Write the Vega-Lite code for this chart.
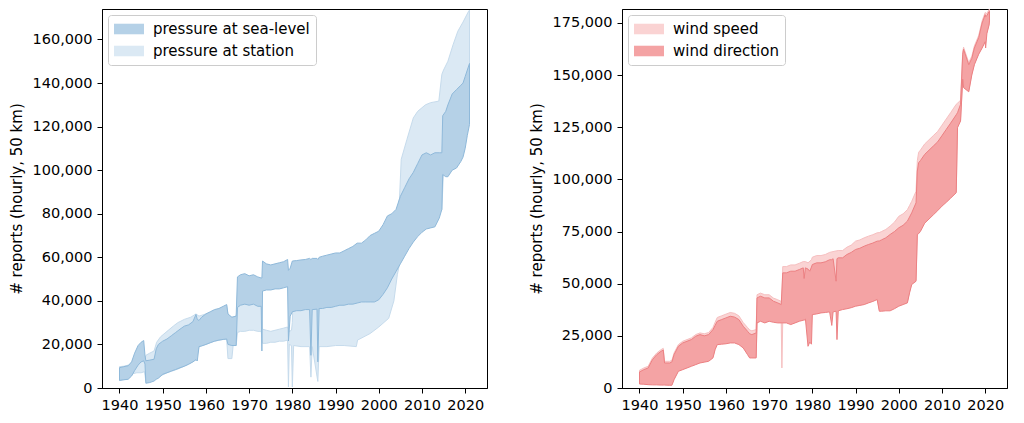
{
  "$schema": "https://vega.github.io/schema/vega-lite/v6.json",
  "padding": {"left": 8, "top": 8, "right": 5, "bottom": 5},
  "background": "white",
  "config": {
    "view": {"stroke": "black", "strokeWidth": 1},
    "axis": {"labelFont": "DejaVu Sans", "labelFontSize": 14.5, "labelColor": "black", "tickColor": "black", "domainColor": "black", "tickSize": 5, "labelPadding": 5, "grid": false, "titleFont": "DejaVu Sans", "titleFontSize": 15, "titleFontWeight": "normal", "titleColor": "black", "labelFlush": false, "labelOverlap": false, "titlePadding": 8},
    "legend": {"title": null, "orient": "top-left", "offset": 6, "padding": 6, "fillColor": "rgba(255,255,255,0.8)", "strokeColor": "#cccccc", "cornerRadius": 3, "symbolType": "M-1.875,-0.66H1.875V0.66H-1.875Z", "symbolSize": 256, "symbolOffset": 7, "symbolStrokeWidth": 0, "symbolOpacity": 1, "labelFontSize": 15, "labelFont": "DejaVu Sans", "labelColor": "black", "labelOffset": 16, "rowPadding": 6}
  },
  "datasets": {
    "pressure": [
      {"series":"pressure at sea-level","year":1940.0,"lo":3500,"hi":9300},
      {"series":"pressure at sea-level","year":1941.0,"lo":3800,"hi":9800},
      {"series":"pressure at sea-level","year":1942.0,"lo":4000,"hi":10200},
      {"series":"pressure at sea-level","year":1942.8,"lo":5500,"hi":12000},
      {"series":"pressure at sea-level","year":1943.5,"lo":8000,"hi":16000},
      {"series":"pressure at sea-level","year":1944.3,"lo":10500,"hi":19500},
      {"series":"pressure at sea-level","year":1945.0,"lo":12000,"hi":21000},
      {"series":"pressure at sea-level","year":1945.6,"lo":12500,"hi":21800},
      {"series":"pressure at sea-level","year":1945.9,"lo":11000,"hi":15000},
      {"series":"pressure at sea-level","year":1946.1,"lo":2200,"hi":12500},
      {"series":"pressure at sea-level","year":1947.0,"lo":2500,"hi":12800},
      {"series":"pressure at sea-level","year":1948.0,"lo":3200,"hi":13200},
      {"series":"pressure at sea-level","year":1948.5,"lo":4000,"hi":18000},
      {"series":"pressure at sea-level","year":1949.0,"lo":4500,"hi":20000},
      {"series":"pressure at sea-level","year":1950.0,"lo":6300,"hi":21500},
      {"series":"pressure at sea-level","year":1951.0,"lo":7000,"hi":22500},
      {"series":"pressure at sea-level","year":1952.0,"lo":7800,"hi":24000},
      {"series":"pressure at sea-level","year":1953.0,"lo":8500,"hi":25500},
      {"series":"pressure at sea-level","year":1954.0,"lo":9300,"hi":27000},
      {"series":"pressure at sea-level","year":1955.0,"lo":10000,"hi":28400},
      {"series":"pressure at sea-level","year":1956.0,"lo":10900,"hi":29000},
      {"series":"pressure at sea-level","year":1957.0,"lo":12000,"hi":30500},
      {"series":"pressure at sea-level","year":1957.7,"lo":13000,"hi":33800},
      {"series":"pressure at sea-level","year":1958.0,"lo":12400,"hi":31500},
      {"series":"pressure at sea-level","year":1958.4,"lo":19000,"hi":31000},
      {"series":"pressure at sea-level","year":1959.0,"lo":19300,"hi":32500},
      {"series":"pressure at sea-level","year":1960.0,"lo":20000,"hi":34000},
      {"series":"pressure at sea-level","year":1961.0,"lo":20800,"hi":35000},
      {"series":"pressure at sea-level","year":1962.0,"lo":21500,"hi":36000},
      {"series":"pressure at sea-level","year":1963.0,"lo":22000,"hi":36500},
      {"series":"pressure at sea-level","year":1964.0,"lo":22300,"hi":37500},
      {"series":"pressure at sea-level","year":1964.8,"lo":22500,"hi":38300},
      {"series":"pressure at sea-level","year":1965.1,"lo":20000,"hi":34000},
      {"series":"pressure at sea-level","year":1966.0,"lo":19500,"hi":32500},
      {"series":"pressure at sea-level","year":1967.0,"lo":19500,"hi":33000},
      {"series":"pressure at sea-level","year":1967.3,"lo":37000,"hi":51000},
      {"series":"pressure at sea-level","year":1968.0,"lo":38000,"hi":52000},
      {"series":"pressure at sea-level","year":1969.0,"lo":38500,"hi":52500},
      {"series":"pressure at sea-level","year":1970.0,"lo":38000,"hi":51500},
      {"series":"pressure at sea-level","year":1971.0,"lo":38500,"hi":52000},
      {"series":"pressure at sea-level","year":1972.0,"lo":37500,"hi":51000},
      {"series":"pressure at sea-level","year":1972.8,"lo":37500,"hi":50500},
      {"series":"pressure at sea-level","year":1972.95,"lo":17000,"hi":50500},
      {"series":"pressure at sea-level","year":1973.1,"lo":44500,"hi":58300},
      {"series":"pressure at sea-level","year":1974.0,"lo":45000,"hi":57000},
      {"series":"pressure at sea-level","year":1975.0,"lo":45000,"hi":56500},
      {"series":"pressure at sea-level","year":1976.0,"lo":45500,"hi":57000},
      {"series":"pressure at sea-level","year":1977.0,"lo":45500,"hi":57500},
      {"series":"pressure at sea-level","year":1978.0,"lo":46000,"hi":58000},
      {"series":"pressure at sea-level","year":1978.9,"lo":46500,"hi":59000},
      {"series":"pressure at sea-level","year":1979.1,"lo":21600,"hi":54000},
      {"series":"pressure at sea-level","year":1979.5,"lo":33000,"hi":55000},
      {"series":"pressure at sea-level","year":1980.0,"lo":35000,"hi":58300},
      {"series":"pressure at sea-level","year":1981.0,"lo":35500,"hi":58500},
      {"series":"pressure at sea-level","year":1982.0,"lo":35500,"hi":58800},
      {"series":"pressure at sea-level","year":1983.0,"lo":36000,"hi":59000},
      {"series":"pressure at sea-level","year":1984.0,"lo":36000,"hi":59500},
      {"series":"pressure at sea-level","year":1984.3,"lo":15000,"hi":59000},
      {"series":"pressure at sea-level","year":1984.6,"lo":36000,"hi":59500},
      {"series":"pressure at sea-level","year":1985.7,"lo":36200,"hi":59500},
      {"series":"pressure at sea-level","year":1985.9,"lo":12000,"hi":59000},
      {"series":"pressure at sea-level","year":1986.2,"lo":36500,"hi":60000},
      {"series":"pressure at sea-level","year":1987.0,"lo":36500,"hi":60500},
      {"series":"pressure at sea-level","year":1988.0,"lo":37000,"hi":61000},
      {"series":"pressure at sea-level","year":1989.0,"lo":37000,"hi":61500},
      {"series":"pressure at sea-level","year":1990.0,"lo":37500,"hi":62000},
      {"series":"pressure at sea-level","year":1991.0,"lo":38000,"hi":62000},
      {"series":"pressure at sea-level","year":1992.0,"lo":38000,"hi":63000},
      {"series":"pressure at sea-level","year":1993.0,"lo":38500,"hi":64000},
      {"series":"pressure at sea-level","year":1994.0,"lo":38500,"hi":65000},
      {"series":"pressure at sea-level","year":1995.0,"lo":39000,"hi":66500},
      {"series":"pressure at sea-level","year":1996.0,"lo":39500,"hi":66500},
      {"series":"pressure at sea-level","year":1997.0,"lo":39500,"hi":68000},
      {"series":"pressure at sea-level","year":1998.0,"lo":39500,"hi":70000},
      {"series":"pressure at sea-level","year":1999.0,"lo":39500,"hi":71000},
      {"series":"pressure at sea-level","year":2000.0,"lo":40500,"hi":72000},
      {"series":"pressure at sea-level","year":2001.0,"lo":43000,"hi":75000},
      {"series":"pressure at sea-level","year":2002.0,"lo":46000,"hi":79000},
      {"series":"pressure at sea-level","year":2003.0,"lo":50000,"hi":80000},
      {"series":"pressure at sea-level","year":2004.0,"lo":53500,"hi":82000},
      {"series":"pressure at sea-level","year":2005.0,"lo":57000,"hi":88000},
      {"series":"pressure at sea-level","year":2006.0,"lo":60500,"hi":92000},
      {"series":"pressure at sea-level","year":2007.0,"lo":64000,"hi":96000},
      {"series":"pressure at sea-level","year":2008.0,"lo":67000,"hi":99000},
      {"series":"pressure at sea-level","year":2009.0,"lo":69500,"hi":103000},
      {"series":"pressure at sea-level","year":2010.0,"lo":71500,"hi":107000},
      {"series":"pressure at sea-level","year":2011.0,"lo":73000,"hi":108000},
      {"series":"pressure at sea-level","year":2012.0,"lo":73500,"hi":107000},
      {"series":"pressure at sea-level","year":2013.0,"lo":74000,"hi":108000},
      {"series":"pressure at sea-level","year":2014.0,"lo":78000,"hi":108000},
      {"series":"pressure at sea-level","year":2014.6,"lo":82000,"hi":108000},
      {"series":"pressure at sea-level","year":2014.8,"lo":98000,"hi":125000},
      {"series":"pressure at sea-level","year":2015.5,"lo":97000,"hi":127000},
      {"series":"pressure at sea-level","year":2016.0,"lo":97000,"hi":130000},
      {"series":"pressure at sea-level","year":2017.0,"lo":100000,"hi":135000},
      {"series":"pressure at sea-level","year":2018.0,"lo":101000,"hi":137000},
      {"series":"pressure at sea-level","year":2019.0,"lo":104000,"hi":139000},
      {"series":"pressure at sea-level","year":2019.5,"lo":106000,"hi":140000},
      {"series":"pressure at sea-level","year":2020.0,"lo":110000,"hi":143000},
      {"series":"pressure at sea-level","year":2020.5,"lo":116000,"hi":146000},
      {"series":"pressure at sea-level","year":2021.0,"lo":121000,"hi":149000},
      {"series":"pressure at station","year":1940.0,"lo":3500,"hi":9800},
      {"series":"pressure at station","year":1941.0,"lo":3800,"hi":10000},
      {"series":"pressure at station","year":1942.0,"lo":4200,"hi":10500},
      {"series":"pressure at station","year":1943.0,"lo":6500,"hi":11000},
      {"series":"pressure at station","year":1944.0,"lo":7000,"hi":11500},
      {"series":"pressure at station","year":1945.0,"lo":7000,"hi":12000},
      {"series":"pressure at station","year":1945.8,"lo":7500,"hi":12500},
      {"series":"pressure at station","year":1946.1,"lo":3000,"hi":15000},
      {"series":"pressure at station","year":1947.0,"lo":3200,"hi":16000},
      {"series":"pressure at station","year":1948.0,"lo":3800,"hi":17000},
      {"series":"pressure at station","year":1948.6,"lo":4500,"hi":21000},
      {"series":"pressure at station","year":1949.5,"lo":5500,"hi":23500},
      {"series":"pressure at station","year":1951.0,"lo":7000,"hi":26000},
      {"series":"pressure at station","year":1952.5,"lo":8000,"hi":28500},
      {"series":"pressure at station","year":1953.5,"lo":8700,"hi":30000},
      {"series":"pressure at station","year":1955.0,"lo":10000,"hi":31500},
      {"series":"pressure at station","year":1956.5,"lo":11500,"hi":32500},
      {"series":"pressure at station","year":1957.7,"lo":13000,"hi":34000},
      {"series":"pressure at station","year":1958.4,"lo":19000,"hi":33000},
      {"series":"pressure at station","year":1960.0,"lo":20000,"hi":34000},
      {"series":"pressure at station","year":1962.0,"lo":21500,"hi":35500},
      {"series":"pressure at station","year":1964.0,"lo":22300,"hi":37000},
      {"series":"pressure at station","year":1964.8,"lo":22500,"hi":38000},
      {"series":"pressure at station","year":1965.1,"lo":13500,"hi":33500},
      {"series":"pressure at station","year":1966.0,"lo":13500,"hi":32500},
      {"series":"pressure at station","year":1966.3,"lo":19500,"hi":32500},
      {"series":"pressure at station","year":1967.0,"lo":19500,"hi":33000},
      {"series":"pressure at station","year":1967.3,"lo":25500,"hi":38000},
      {"series":"pressure at station","year":1968.0,"lo":26000,"hi":39000},
      {"series":"pressure at station","year":1969.0,"lo":26000,"hi":40000},
      {"series":"pressure at station","year":1970.0,"lo":26500,"hi":39500},
      {"series":"pressure at station","year":1971.0,"lo":26500,"hi":39000},
      {"series":"pressure at station","year":1972.0,"lo":26000,"hi":38500},
      {"series":"pressure at station","year":1972.8,"lo":26000,"hi":38000},
      {"series":"pressure at station","year":1973.1,"lo":20500,"hi":27000},
      {"series":"pressure at station","year":1974.0,"lo":20500,"hi":26500},
      {"series":"pressure at station","year":1975.0,"lo":21000,"hi":26000},
      {"series":"pressure at station","year":1976.0,"lo":21000,"hi":26500},
      {"series":"pressure at station","year":1977.0,"lo":21500,"hi":27000},
      {"series":"pressure at station","year":1978.0,"lo":21500,"hi":27500},
      {"series":"pressure at station","year":1978.9,"lo":22000,"hi":28000},
      {"series":"pressure at station","year":1979.1,"lo":500,"hi":27000},
      {"series":"pressure at station","year":1979.3,"lo":20000,"hi":26000},
      {"series":"pressure at station","year":1979.8,"lo":19500,"hi":26500},
      {"series":"pressure at station","year":1980.0,"lo":500,"hi":30000},
      {"series":"pressure at station","year":1980.3,"lo":19500,"hi":55000},
      {"series":"pressure at station","year":1982.0,"lo":19000,"hi":56000},
      {"series":"pressure at station","year":1984.0,"lo":19000,"hi":57000},
      {"series":"pressure at station","year":1984.3,"lo":5000,"hi":56500},
      {"series":"pressure at station","year":1984.6,"lo":19000,"hi":57000},
      {"series":"pressure at station","year":1985.9,"lo":3000,"hi":57000},
      {"series":"pressure at station","year":1986.2,"lo":19000,"hi":57500},
      {"series":"pressure at station","year":1988.0,"lo":19000,"hi":58000},
      {"series":"pressure at station","year":1990.0,"lo":19500,"hi":59000},
      {"series":"pressure at station","year":1992.0,"lo":19500,"hi":60000},
      {"series":"pressure at station","year":1994.8,"lo":19000,"hi":62000},
      {"series":"pressure at station","year":1995.1,"lo":22000,"hi":63000},
      {"series":"pressure at station","year":1998.0,"lo":25000,"hi":67000},
      {"series":"pressure at station","year":2000.0,"lo":28000,"hi":69000},
      {"series":"pressure at station","year":2002.3,"lo":32000,"hi":75000},
      {"series":"pressure at station","year":2003.5,"lo":40000,"hi":78000},
      {"series":"pressure at station","year":2004.3,"lo":52000,"hi":82000},
      {"series":"pressure at station","year":2004.8,"lo":57000,"hi":87000},
      {"series":"pressure at station","year":2005.2,"lo":60000,"hi":105000},
      {"series":"pressure at station","year":2006.5,"lo":64000,"hi":114000},
      {"series":"pressure at station","year":2008.0,"lo":69000,"hi":124000},
      {"series":"pressure at station","year":2009.0,"lo":71000,"hi":127000},
      {"series":"pressure at station","year":2010.8,"lo":75000,"hi":130000},
      {"series":"pressure at station","year":2012.0,"lo":78000,"hi":131000},
      {"series":"pressure at station","year":2013.9,"lo":80000,"hi":131700},
      {"series":"pressure at station","year":2014.6,"lo":82000,"hi":144000},
      {"series":"pressure at station","year":2015.0,"lo":100000,"hi":146000},
      {"series":"pressure at station","year":2016.0,"lo":102000,"hi":150000},
      {"series":"pressure at station","year":2017.2,"lo":105000,"hi":157600},
      {"series":"pressure at station","year":2018.3,"lo":108000,"hi":163800},
      {"series":"pressure at station","year":2019.5,"lo":112000,"hi":168000},
      {"series":"pressure at station","year":2020.8,"lo":125000,"hi":173000},
      {"series":"pressure at station","year":2021.0,"lo":127000,"hi":173500}
    ],
    "wind": [
      {"series":"wind direction","year":1940.0,"lo":1900,"hi":7700},
      {"series":"wind direction","year":1941.0,"lo":1800,"hi":8800},
      {"series":"wind direction","year":1942.0,"lo":1600,"hi":9600},
      {"series":"wind direction","year":1943.0,"lo":1500,"hi":13600},
      {"series":"wind direction","year":1944.0,"lo":1500,"hi":16000},
      {"series":"wind direction","year":1945.0,"lo":1400,"hi":17600},
      {"series":"wind direction","year":1945.5,"lo":1400,"hi":18200},
      {"series":"wind direction","year":1945.8,"lo":1400,"hi":12000},
      {"series":"wind direction","year":1947.0,"lo":1300,"hi":12000},
      {"series":"wind direction","year":1947.5,"lo":1300,"hi":12500},
      {"series":"wind direction","year":1948.0,"lo":4000,"hi":16000},
      {"series":"wind direction","year":1949.0,"lo":8000,"hi":20000},
      {"series":"wind direction","year":1950.0,"lo":8800,"hi":21600},
      {"series":"wind direction","year":1951.0,"lo":9600,"hi":22400},
      {"series":"wind direction","year":1952.0,"lo":10400,"hi":23200},
      {"series":"wind direction","year":1953.0,"lo":11200,"hi":24800},
      {"series":"wind direction","year":1954.0,"lo":12000,"hi":25600},
      {"series":"wind direction","year":1955.0,"lo":12400,"hi":25000},
      {"series":"wind direction","year":1956.0,"lo":12800,"hi":25600},
      {"series":"wind direction","year":1957.0,"lo":14400,"hi":28000},
      {"series":"wind direction","year":1957.5,"lo":18400,"hi":30000},
      {"series":"wind direction","year":1958.0,"lo":20800,"hi":32000},
      {"series":"wind direction","year":1959.0,"lo":21000,"hi":32800},
      {"series":"wind direction","year":1960.0,"lo":21200,"hi":33600},
      {"series":"wind direction","year":1961.0,"lo":21600,"hi":34400},
      {"series":"wind direction","year":1962.0,"lo":21600,"hi":34000},
      {"series":"wind direction","year":1963.0,"lo":20800,"hi":32800},
      {"series":"wind direction","year":1964.0,"lo":19200,"hi":29600},
      {"series":"wind direction","year":1965.0,"lo":16000,"hi":27200},
      {"series":"wind direction","year":1965.5,"lo":14400,"hi":26000},
      {"series":"wind direction","year":1966.0,"lo":14400,"hi":25600},
      {"series":"wind direction","year":1967.0,"lo":14400,"hi":26400},
      {"series":"wind direction","year":1967.2,"lo":31200,"hi":43200},
      {"series":"wind direction","year":1968.0,"lo":32000,"hi":44000},
      {"series":"wind direction","year":1969.0,"lo":31200,"hi":43200},
      {"series":"wind direction","year":1970.0,"lo":32000,"hi":43200},
      {"series":"wind direction","year":1971.0,"lo":31500,"hi":41600},
      {"series":"wind direction","year":1972.0,"lo":31200,"hi":40800},
      {"series":"wind direction","year":1972.8,"lo":31200,"hi":40000},
      {"series":"wind direction","year":1973.15,"lo":31200,"hi":55200},
      {"series":"wind direction","year":1974.0,"lo":31200,"hi":55200},
      {"series":"wind direction","year":1975.0,"lo":30400,"hi":56000},
      {"series":"wind direction","year":1976.0,"lo":31200,"hi":56000},
      {"series":"wind direction","year":1977.0,"lo":32000,"hi":56800},
      {"series":"wind direction","year":1977.9,"lo":32500,"hi":57600},
      {"series":"wind direction","year":1978.1,"lo":32500,"hi":52500},
      {"series":"wind direction","year":1978.4,"lo":33000,"hi":57600},
      {"series":"wind direction","year":1979.0,"lo":20000,"hi":57000},
      {"series":"wind direction","year":1979.4,"lo":22000,"hi":56000},
      {"series":"wind direction","year":1979.8,"lo":21000,"hi":58000},
      {"series":"wind direction","year":1980.0,"lo":35200,"hi":59200},
      {"series":"wind direction","year":1981.0,"lo":35500,"hi":60000},
      {"series":"wind direction","year":1982.0,"lo":36000,"hi":60000},
      {"series":"wind direction","year":1983.0,"lo":36200,"hi":60500},
      {"series":"wind direction","year":1984.0,"lo":36500,"hi":61500},
      {"series":"wind direction","year":1984.5,"lo":30000,"hi":61500},
      {"series":"wind direction","year":1984.8,"lo":36500,"hi":62000},
      {"series":"wind direction","year":1985.5,"lo":36800,"hi":51200},
      {"series":"wind direction","year":1985.7,"lo":23200,"hi":62000},
      {"series":"wind direction","year":1986.0,"lo":37000,"hi":62400},
      {"series":"wind direction","year":1987.0,"lo":37600,"hi":62400},
      {"series":"wind direction","year":1988.0,"lo":38000,"hi":64000},
      {"series":"wind direction","year":1989.0,"lo":38500,"hi":65000},
      {"series":"wind direction","year":1990.0,"lo":39200,"hi":66400},
      {"series":"wind direction","year":1991.0,"lo":39600,"hi":67000},
      {"series":"wind direction","year":1992.0,"lo":40000,"hi":68000},
      {"series":"wind direction","year":1993.0,"lo":40800,"hi":68800},
      {"series":"wind direction","year":1994.0,"lo":41500,"hi":69500},
      {"series":"wind direction","year":1995.0,"lo":42400,"hi":70400},
      {"series":"wind direction","year":1995.5,"lo":36800,"hi":70500},
      {"series":"wind direction","year":1996.0,"lo":36800,"hi":71000},
      {"series":"wind direction","year":1997.0,"lo":37000,"hi":72000},
      {"series":"wind direction","year":1998.0,"lo":37000,"hi":73600},
      {"series":"wind direction","year":1999.0,"lo":38000,"hi":75000},
      {"series":"wind direction","year":2000.0,"lo":39200,"hi":76800},
      {"series":"wind direction","year":2001.0,"lo":40000,"hi":78000},
      {"series":"wind direction","year":2002.0,"lo":40800,"hi":80000},
      {"series":"wind direction","year":2002.5,"lo":45600,"hi":82000},
      {"series":"wind direction","year":2003.0,"lo":49600,"hi":84000},
      {"series":"wind direction","year":2004.0,"lo":51200,"hi":88800},
      {"series":"wind direction","year":2004.3,"lo":73600,"hi":104000},
      {"series":"wind direction","year":2004.6,"lo":74000,"hi":108000},
      {"series":"wind direction","year":2005.0,"lo":75000,"hi":109000},
      {"series":"wind direction","year":2006.0,"lo":79000,"hi":112000},
      {"series":"wind direction","year":2007.0,"lo":81000,"hi":114000},
      {"series":"wind direction","year":2008.0,"lo":83000,"hi":116000},
      {"series":"wind direction","year":2009.0,"lo":85000,"hi":118000},
      {"series":"wind direction","year":2010.0,"lo":87200,"hi":121000},
      {"series":"wind direction","year":2011.0,"lo":89000,"hi":124000},
      {"series":"wind direction","year":2012.0,"lo":91000,"hi":127000},
      {"series":"wind direction","year":2013.3,"lo":93600,"hi":131000},
      {"series":"wind direction","year":2013.6,"lo":124800,"hi":132000},
      {"series":"wind direction","year":2014.3,"lo":128000,"hi":136000},
      {"series":"wind direction","year":2014.8,"lo":148000,"hi":160000},
      {"series":"wind direction","year":2015.0,"lo":144000,"hi":162400},
      {"series":"wind direction","year":2016.2,"lo":142000,"hi":155000},
      {"series":"wind direction","year":2016.9,"lo":150000,"hi":158000},
      {"series":"wind direction","year":2017.5,"lo":155000,"hi":163000},
      {"series":"wind direction","year":2018.5,"lo":160000,"hi":168000},
      {"series":"wind direction","year":2019.3,"lo":163000,"hi":175000},
      {"series":"wind direction","year":2020.0,"lo":166000,"hi":179000},
      {"series":"wind direction","year":2020.1,"lo":163000,"hi":178000},
      {"series":"wind direction","year":2020.4,"lo":170000,"hi":178500},
      {"series":"wind direction","year":2020.9,"lo":174000,"hi":180500},
      {"series":"wind direction","year":2021.0,"lo":176000,"hi":180500},
      {"series":"wind speed","year":1940.0,"lo":2400,"hi":8500},
      {"series":"wind speed","year":1941.0,"lo":2300,"hi":9600},
      {"series":"wind speed","year":1942.0,"lo":2100,"hi":10400},
      {"series":"wind speed","year":1943.0,"lo":2000,"hi":14400},
      {"series":"wind speed","year":1944.0,"lo":2000,"hi":16800},
      {"series":"wind speed","year":1945.0,"lo":1900,"hi":18400},
      {"series":"wind speed","year":1945.5,"lo":1900,"hi":19000},
      {"series":"wind speed","year":1945.8,"lo":1900,"hi":12800},
      {"series":"wind speed","year":1947.0,"lo":1800,"hi":12800},
      {"series":"wind speed","year":1947.5,"lo":1800,"hi":13300},
      {"series":"wind speed","year":1948.0,"lo":4500,"hi":16800},
      {"series":"wind speed","year":1949.0,"lo":8500,"hi":20800},
      {"series":"wind speed","year":1950.0,"lo":9300,"hi":22400},
      {"series":"wind speed","year":1951.0,"lo":10100,"hi":23200},
      {"series":"wind speed","year":1952.0,"lo":10900,"hi":24000},
      {"series":"wind speed","year":1953.0,"lo":11700,"hi":25600},
      {"series":"wind speed","year":1954.0,"lo":12500,"hi":26400},
      {"series":"wind speed","year":1955.0,"lo":12900,"hi":26000},
      {"series":"wind speed","year":1956.0,"lo":13300,"hi":26600},
      {"series":"wind speed","year":1957.0,"lo":14900,"hi":29000},
      {"series":"wind speed","year":1957.5,"lo":18900,"hi":31500},
      {"series":"wind speed","year":1958.0,"lo":21300,"hi":33800},
      {"series":"wind speed","year":1959.0,"lo":21500,"hi":34600},
      {"series":"wind speed","year":1960.0,"lo":21700,"hi":35400},
      {"series":"wind speed","year":1961.0,"lo":22100,"hi":36200},
      {"series":"wind speed","year":1962.0,"lo":22100,"hi":35800},
      {"series":"wind speed","year":1963.0,"lo":21300,"hi":34600},
      {"series":"wind speed","year":1964.0,"lo":19700,"hi":31400},
      {"series":"wind speed","year":1965.0,"lo":16500,"hi":29000},
      {"series":"wind speed","year":1965.5,"lo":14900,"hi":27800},
      {"series":"wind speed","year":1966.0,"lo":14900,"hi":27400},
      {"series":"wind speed","year":1967.0,"lo":14900,"hi":28000},
      {"series":"wind speed","year":1967.2,"lo":31700,"hi":44700},
      {"series":"wind speed","year":1968.0,"lo":32500,"hi":45500},
      {"series":"wind speed","year":1969.0,"lo":31700,"hi":44700},
      {"series":"wind speed","year":1970.0,"lo":32500,"hi":44700},
      {"series":"wind speed","year":1971.0,"lo":32000,"hi":43100},
      {"series":"wind speed","year":1972.0,"lo":31700,"hi":42300},
      {"series":"wind speed","year":1972.8,"lo":31700,"hi":41500},
      {"series":"wind speed","year":1972.95,"lo":9600,"hi":41500},
      {"series":"wind speed","year":1973.15,"lo":31700,"hi":58200},
      {"series":"wind speed","year":1974.0,"lo":31700,"hi":58200},
      {"series":"wind speed","year":1975.0,"lo":30900,"hi":59000},
      {"series":"wind speed","year":1976.0,"lo":31700,"hi":59000},
      {"series":"wind speed","year":1977.0,"lo":32500,"hi":59800},
      {"series":"wind speed","year":1977.9,"lo":33000,"hi":60600},
      {"series":"wind speed","year":1978.4,"lo":33500,"hi":60600},
      {"series":"wind speed","year":1979.0,"lo":33500,"hi":60000},
      {"series":"wind speed","year":1979.8,"lo":34500,"hi":61500},
      {"series":"wind speed","year":1980.0,"lo":35700,"hi":62700},
      {"series":"wind speed","year":1981.0,"lo":36000,"hi":63500},
      {"series":"wind speed","year":1982.0,"lo":36500,"hi":63500},
      {"series":"wind speed","year":1983.0,"lo":36700,"hi":64000},
      {"series":"wind speed","year":1984.0,"lo":37000,"hi":65000},
      {"series":"wind speed","year":1985.0,"lo":37200,"hi":65500},
      {"series":"wind speed","year":1986.0,"lo":37500,"hi":65900},
      {"series":"wind speed","year":1987.0,"lo":38100,"hi":65900},
      {"series":"wind speed","year":1988.0,"lo":38500,"hi":67500},
      {"series":"wind speed","year":1989.0,"lo":39000,"hi":68500},
      {"series":"wind speed","year":1990.0,"lo":39700,"hi":70400},
      {"series":"wind speed","year":1991.0,"lo":40100,"hi":71000},
      {"series":"wind speed","year":1992.0,"lo":40500,"hi":72000},
      {"series":"wind speed","year":1993.0,"lo":41300,"hi":72800},
      {"series":"wind speed","year":1994.0,"lo":42000,"hi":73500},
      {"series":"wind speed","year":1995.0,"lo":42900,"hi":74400},
      {"series":"wind speed","year":1995.5,"lo":37300,"hi":74500},
      {"series":"wind speed","year":1996.0,"lo":37300,"hi":75000},
      {"series":"wind speed","year":1997.0,"lo":37500,"hi":76000},
      {"series":"wind speed","year":1998.0,"lo":37500,"hi":77600},
      {"series":"wind speed","year":1999.0,"lo":38500,"hi":79500},
      {"series":"wind speed","year":2000.0,"lo":39700,"hi":82300},
      {"series":"wind speed","year":2001.0,"lo":40500,"hi":83500},
      {"series":"wind speed","year":2002.0,"lo":41300,"hi":85500},
      {"series":"wind speed","year":2002.5,"lo":46100,"hi":87500},
      {"series":"wind speed","year":2003.0,"lo":50100,"hi":89500},
      {"series":"wind speed","year":2004.0,"lo":51700,"hi":94300},
      {"series":"wind speed","year":2004.3,"lo":74100,"hi":109000},
      {"series":"wind speed","year":2004.6,"lo":74500,"hi":113000},
      {"series":"wind speed","year":2005.0,"lo":75500,"hi":114000},
      {"series":"wind speed","year":2006.0,"lo":79500,"hi":117000},
      {"series":"wind speed","year":2007.0,"lo":81500,"hi":119000},
      {"series":"wind speed","year":2008.0,"lo":83500,"hi":121000},
      {"series":"wind speed","year":2009.0,"lo":85500,"hi":123000},
      {"series":"wind speed","year":2010.0,"lo":87700,"hi":126000},
      {"series":"wind speed","year":2011.0,"lo":89500,"hi":129000},
      {"series":"wind speed","year":2012.0,"lo":91500,"hi":132000},
      {"series":"wind speed","year":2013.3,"lo":94100,"hi":136000},
      {"series":"wind speed","year":2013.6,"lo":125300,"hi":136500},
      {"series":"wind speed","year":2014.3,"lo":128500,"hi":138000},
      {"series":"wind speed","year":2014.8,"lo":148500,"hi":161000},
      {"series":"wind speed","year":2015.0,"lo":144500,"hi":163400},
      {"series":"wind speed","year":2016.2,"lo":142500,"hi":156000},
      {"series":"wind speed","year":2016.9,"lo":150500,"hi":159000},
      {"series":"wind speed","year":2017.5,"lo":155500,"hi":164000},
      {"series":"wind speed","year":2018.5,"lo":160500,"hi":169000},
      {"series":"wind speed","year":2019.3,"lo":163500,"hi":176000},
      {"series":"wind speed","year":2020.0,"lo":166500,"hi":180000},
      {"series":"wind speed","year":2020.4,"lo":170500,"hi":179500},
      {"series":"wind speed","year":2020.9,"lo":174500,"hi":181500},
      {"series":"wind speed","year":2021.0,"lo":176500,"hi":181500}
    ]
  },
  "hconcat": [
    {
      "width": 385,
      "height": 379,
      "data": {"name": "pressure"},
      "encoding": {
        "x": {"field": "year", "type": "quantitative", "scale": {"domain": [1935.95, 2025.05], "nice": false, "zero": false}, "axis": {"values": [1940, 1950, 1960, 1970, 1980, 1990, 2000, 2010, 2020], "format": "d", "title": null}},
        "y": {"field": "lo", "type": "quantitative", "scale": {"domain": [0, 174000], "nice": false}, "axis": {"values": [0, 20000, 40000, 60000, 80000, 100000, 120000, 140000, 160000], "format": ",d", "title": "# reports (hourly, 50 km)"}},
        "y2": {"field": "hi"},
        "color": {"field": "series", "type": "nominal", "scale": {"domain": ["pressure at sea-level", "pressure at station"], "range": ["#b5d1e7", "#dbe9f4"]}, "legend": {}}
      },
      "layer": [
        {"transform": [{"filter": "datum.series === 'pressure at station'"}], "mark": {"type": "area", "opacity": 1, "stroke": "#c6dbec", "strokeWidth": 1, "clip": true}},
        {"transform": [{"filter": "datum.series === 'pressure at sea-level'"}], "mark": {"type": "area", "opacity": 1, "stroke": "#8fb9da", "strokeWidth": 1, "clip": true}}
      ]
    },
    {
      "width": 385,
      "height": 379,
      "data": {"name": "wind"},
      "encoding": {
        "x": {"field": "year", "type": "quantitative", "scale": {"domain": [1935.95, 2025.05], "nice": false, "zero": false}, "axis": {"values": [1940, 1950, 1960, 1970, 1980, 1990, 2000, 2010, 2020], "format": "d", "title": null}},
        "y": {"field": "lo", "type": "quantitative", "scale": {"domain": [0, 181700], "nice": false}, "axis": {"values": [0, 25000, 50000, 75000, 100000, 125000, 150000, 175000], "format": ",d", "title": "# reports (hourly, 50 km)"}},
        "y2": {"field": "hi"},
        "color": {"field": "series", "type": "nominal", "scale": {"domain": ["wind speed", "wind direction"], "range": ["#fad3d3", "#f4a3a4"]}, "legend": {}}
      },
      "layer": [
        {"transform": [{"filter": "datum.series === 'wind speed'"}], "mark": {"type": "area", "opacity": 1, "stroke": "#f6bfc0", "strokeWidth": 1, "clip": true}},
        {"transform": [{"filter": "datum.series === 'wind direction'"}], "mark": {"type": "area", "opacity": 1, "stroke": "#ec8082", "strokeWidth": 1, "clip": true}}
      ]
    }
  ],
  "spacing": 40,
  "resolve": {"scale": {"color": "independent", "x": "independent", "y": "independent"}, "legend": {"color": "independent"}}
}
